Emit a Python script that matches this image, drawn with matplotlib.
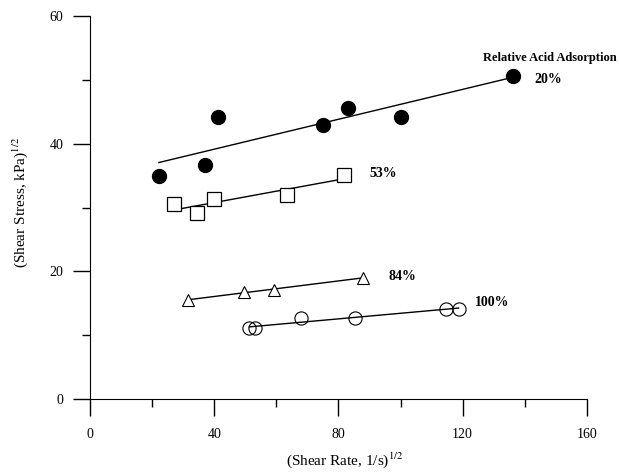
import matplotlib.pyplot as plt
import numpy as np

plt.rcParams['font.family'] = 'Liberation Serif'
plt.rcParams['mathtext.fontset'] = 'stix'

# (Shear Rate)^1/2 and (Shear Stress)^1/2 per acid adsorption level
x20 = [22.2, 37.0, 41.2, 75.0, 83.1, 100.1, 136.2]
y20 = [34.9, 36.7, 44.2, 42.9, 45.6, 44.2, 50.6]

x53 = [27.0, 34.4, 39.9, 63.4, 81.8]
y53 = [30.5, 29.1, 31.3, 32.0, 35.1]

x84 = [31.5, 49.5, 59.4, 88.0]
y84 = [15.5, 16.8, 17.1, 19.0]

x100 = [51.3, 53.2, 67.8, 85.5, 114.5, 118.7]
y100 = [11.1, 11.1, 12.7, 12.7, 14.1, 14.1]

series = [
    (x20, y20, dict(marker='o', markersize=10, markerfacecolor='black', markeredgecolor='black')),
    (x53, y53, dict(marker='s', markersize=9.5, markerfacecolor='white', markeredgecolor='black', markeredgewidth=0.9)),
    (x84, y84, dict(marker='^', markersize=9, markerfacecolor='white', markeredgecolor='black', markeredgewidth=0.8)),
    (x100, y100, dict(marker='o', markersize=9.5, markerfacecolor='none', markeredgecolor='black', markeredgewidth=0.8)),
]

fig = plt.figure(figsize=(6.19, 4.75), dpi=100)
ax = fig.add_axes([0.1454, 0.16, 0.8026, 0.8063])

# straight fit line through each series
for x, y, style in series:
    x = np.array(x)
    y = np.array(y)
    k, b = np.polyfit(x, y, 1)
    xs = np.array([x.min(), x.max()])
    ax.plot(xs, k * xs + b, color='black', linewidth=1.0, zorder=2)
    ax.plot(x, y, linestyle='none', zorder=3, **style)

ax.text(148, 53.4, 'Relative Acid Adsorption', fontsize=9, fontweight='bold', ha='center', va='center')
ax.text(143, 50.0, '20%', fontsize=10, fontweight='bold', ha='left', va='center')
ax.text(90, 35.3, '53%', fontsize=10, fontweight='bold', ha='left', va='center')
ax.text(96, 19.2, '84%', fontsize=10, fontweight='bold', ha='left', va='center')
ax.text(124, 15.1, '100%', fontsize=10, fontweight='bold', ha='left', va='center')

ax.set_xlim(0, 160)
ax.set_ylim(0, 60)
ax.set_xticks([0, 40, 80, 120, 160])
ax.set_xticks([20, 60, 100, 140], minor=True)
ax.set_yticks([0, 20, 40, 60])
ax.set_yticks([10, 30, 50], minor=True)

ax.spines['top'].set_visible(False)
ax.spines['right'].set_visible(False)
ax.tick_params(which='major', direction='out', length=12, width=1.0, labelsize=10)
ax.tick_params(which='minor', direction='out', length=6, width=1.0)
ax.tick_params(axis='x', which='major', pad=9)
ax.tick_params(axis='y', which='major', pad=7)

ax.set_xlabel(r'(Shear Rate, 1/s)$^{\mathrm{1/2}}$', fontsize=11)
ax.set_ylabel(r'(Shear Stress, kPa)$^{\mathrm{1/2}}$', fontsize=11)
ax.xaxis.set_label_coords(0.513, -0.134)
ax.yaxis.set_label_coords(-0.121, 0.513)

fig.savefig('out.png', dpi=100)
